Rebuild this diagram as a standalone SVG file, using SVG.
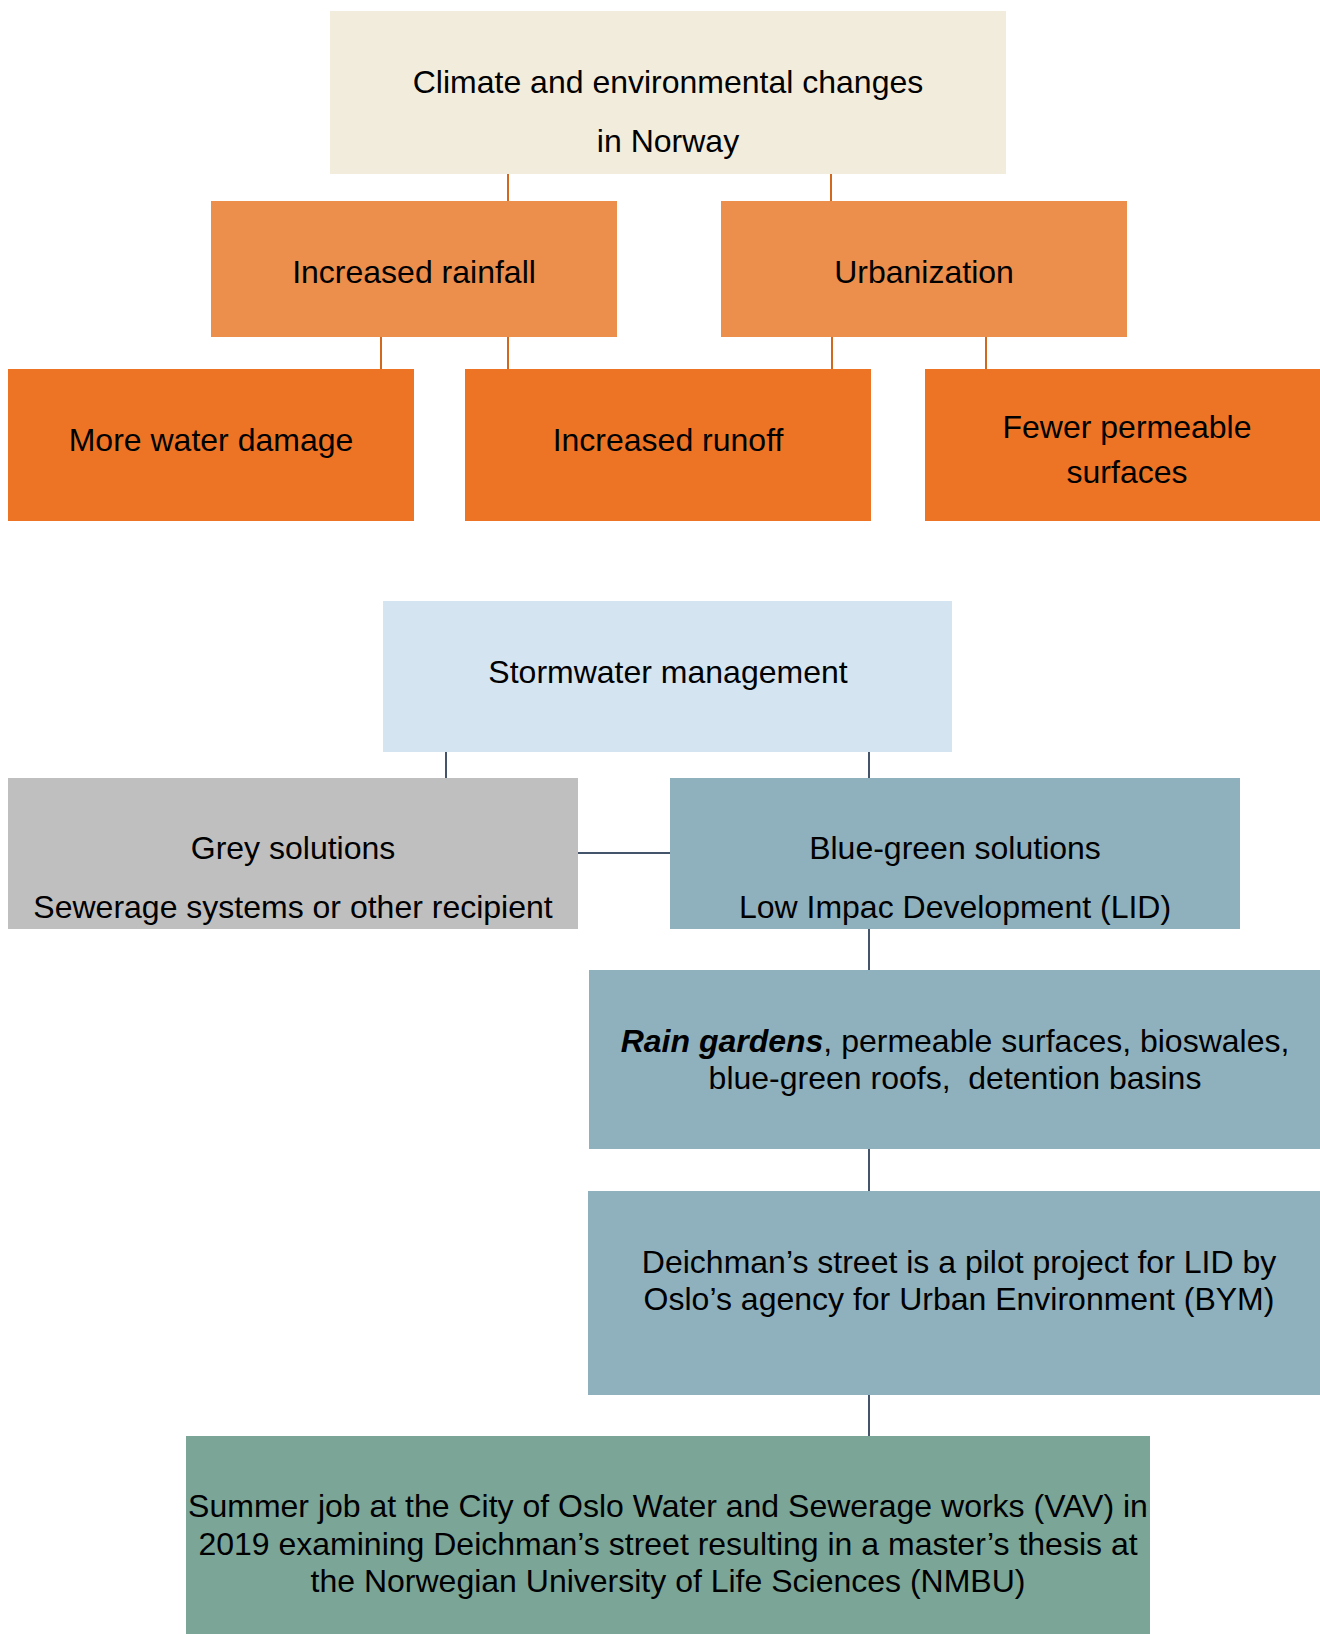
<svg xmlns="http://www.w3.org/2000/svg" width="1320" height="1634" viewBox="0 0 1320 1634">
<style>
text{font-family:"Liberation Sans",Arial,sans-serif;font-size:32px;fill:#000;text-anchor:middle}
.oc{stroke:#D2681E;stroke-width:2;fill:none}
.dc{stroke:#44546A;stroke-width:2;fill:none}
.cream{fill:#F2ECDD}
.lo{fill:#EC8E4C}
.o{fill:#EE7425}
.lb{fill:#D5E4F1}
.gr{fill:#BFBFBF}
.bg{fill:#8FB1BE}
.sg{fill:#7BA597}
</style>
<rect width="1320" height="1634" fill="#fff"/>
<g id="connectors">
<line class="oc" x1="508" y1="174" x2="508" y2="201"/>
<line class="oc" x1="831" y1="174" x2="831" y2="201"/>
<line class="oc" x1="381" y1="337" x2="381" y2="369"/>
<line class="oc" x1="508" y1="337" x2="508" y2="369"/>
<line class="oc" x1="832" y1="337" x2="832" y2="369"/>
<line class="oc" x1="986" y1="337" x2="986" y2="369"/>
<line class="dc" x1="446" y1="752" x2="446" y2="778"/>
<line class="dc" x1="869" y1="752" x2="869" y2="778"/>
<line class="dc" x1="578" y1="853" x2="670" y2="853" stroke-width="3"/>
<line class="dc" x1="869" y1="929" x2="869" y2="970"/>
<line class="dc" x1="869" y1="1149" x2="869" y2="1191"/>
<line class="dc" x1="869" y1="1395" x2="869" y2="1436"/>
</g>
<g id="climate">
<rect class="cream" x="330" y="11" width="676" height="163"/>
<text x="668" y="93">Climate and environmental changes</text>
<text x="668" y="152">in Norway</text>
</g>
<g id="rainfall">
<rect class="lo" x="211" y="201" width="406" height="136"/>
<text x="414" y="283">Increased rainfall</text>
</g>
<g id="urbanization">
<rect class="lo" x="721" y="201" width="406" height="136"/>
<text x="924" y="283">Urbanization</text>
</g>
<g id="waterdamage">
<rect class="o" x="8" y="369" width="406" height="152"/>
<text x="211" y="451">More water damage</text>
</g>
<g id="runoff">
<rect class="o" x="465" y="369" width="406" height="152"/>
<text x="668" y="451">Increased runoff</text>
</g>
<g id="permeable">
<rect class="o" x="925" y="369" width="406" height="152"/>
<text x="1127" y="438">Fewer permeable</text>
<text x="1127" y="483">surfaces</text>
</g>
<g id="stormwater">
<rect class="lb" x="383" y="601" width="569" height="151"/>
<text x="668" y="683">Stormwater management</text>
</g>
<g id="grey">
<rect class="gr" x="8" y="778" width="570" height="151"/>
<text x="293" y="859">Grey solutions</text>
<text x="293" y="918">Sewerage systems or other recipient</text>
</g>
<g id="bluegreen">
<rect class="bg" x="670" y="778" width="570" height="151"/>
<text x="955" y="859">Blue-green solutions</text>
<text x="955" y="918">Low Impac Development (LID)</text>
</g>
<g id="raingardens">
<rect class="bg" x="589" y="970" width="732" height="179"/>
<text x="955" y="1052"><tspan font-weight="bold" font-style="italic">Rain gardens</tspan>, permeable surfaces, bioswales,</text>
<text x="955" y="1089">blue-green roofs, &#160;detention basins</text>
</g>
<g id="deichman">
<rect class="bg" x="588" y="1191" width="733" height="204"/>
<text x="959" y="1273">Deichman’s street is a pilot project for LID by</text>
<text x="959" y="1310">Oslo’s agency for Urban Environment (BYM)</text>
</g>
<g id="summer">
<rect class="sg" x="186" y="1436" width="964" height="198"/>
<text x="668" y="1517">Summer job at the City of Oslo Water and Sewerage works (VAV) in</text>
<text x="668" y="1555">2019 examining Deichman’s street resulting in a master’s thesis at</text>
<text x="668" y="1592">the Norwegian University of Life Sciences (NMBU)</text>
</g>
</svg>
